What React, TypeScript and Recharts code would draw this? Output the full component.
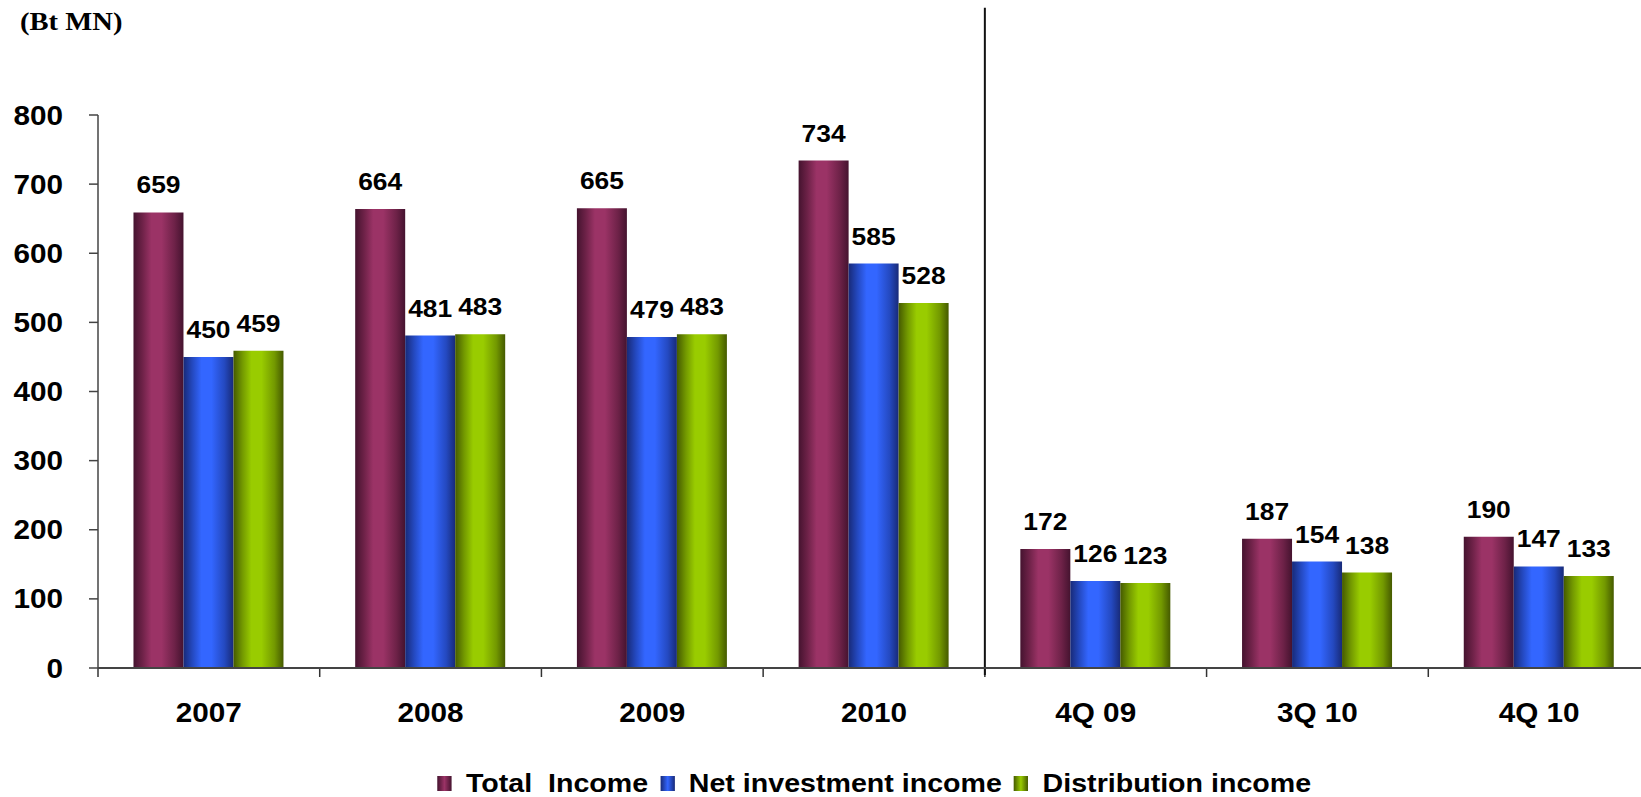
import React from 'react';
import { BarChart, Bar, XAxis, YAxis, ReferenceLine, LabelList } from 'recharts';

const categories = ['2007', '2008', '2009', '2010', '4Q 09', '3Q 10', '4Q 10'];
const totalIncome = [659, 664, 665, 734, 172, 187, 190];
const netInvestmentIncome = [450, 481, 479, 585, 126, 154, 147];
const distributionIncome = [459, 483, 483, 528, 123, 138, 133];
const yTicks = [0, 100, 200, 300, 400, 500, 600, 700, 800];
const dividerCategory = '4Q 09';
const unitLabel = '(Bt MN)';
const seriesNames = ['Total  Income', 'Net investment income', 'Distribution income'];

const data = categories.map((c, i) => ({
  name: c,
  total: totalIncome[i],
  net: netInvestmentIncome[i],
  dist: distributionIncome[i],
}));

// category boundary tick marks: start of every category, plus end of the last one
const boundaries = [
  ...categories.map((c) => ({ cat: c, pos: 'start' as const })),
  { cat: categories[categories.length - 1], pos: 'end' as const },
];

const FONT = '"Liberation Sans", Arial, sans-serif';
const STRETCH = 1.1;

const seriesStyle = [
  { key: 'total', grad: 'gTotal', dark: '#45132f', mid: '#6e2248', bright: '#9b3366' },
  { key: 'net', grad: 'gNet', dark: '#182a78', mid: '#2449c0', bright: '#3366ff' },
  { key: 'dist', grad: 'gDist', dark: '#455a00', mid: '#739900', bright: '#99cc00' },
];

const YTick = (props: any) => {
  const { x, y, payload } = props;
  return (
    <text
      transform={`translate(${x},${y}) scale(${STRETCH},1)`}
      textAnchor="end"
      dominantBaseline="central"
      fontFamily={FONT}
      fontWeight="bold"
      fontSize={27}
      fill="#000"
    >
      {payload.value}
    </text>
  );
};

const XTick = (props: any) => {
  const { x, y, payload } = props;
  return (
    <text
      transform={`translate(${x},${y + 54}) scale(${STRETCH},1)`}
      textAnchor="middle"
      fontFamily={FONT}
      fontWeight="bold"
      fontSize={27}
      fill="#000"
    >
      {payload.value}
    </text>
  );
};

const ValueLabel = (props: any) => {
  const vb = props.viewBox || props;
  const x = vb.x ?? props.x;
  const y = vb.y ?? props.y;
  const w = vb.width ?? props.width;
  return (
    <text
      transform={`translate(${x + w / 2},${y - 19}) scale(${STRETCH},1)`}
      textAnchor="middle"
      fontFamily={FONT}
      fontWeight="bold"
      fontSize={24}
      fill="#000"
    >
      {props.value}
    </text>
  );
};

export default function App() {
  return (
    <div
      style={{
        position: 'absolute',
        left: 0,
        top: 0,
        width: 1641,
        height: 797,
        overflow: 'hidden',
        background: '#fff',
      }}
    >
      <div
        style={{
          position: 'absolute',
          left: 20,
          top: 9,
          fontFamily: '"Liberation Serif", "Times New Roman", serif',
          fontWeight: 'bold',
          fontSize: 26,
          lineHeight: '26px',
          transform: `scaleX(${STRETCH})`,
          transformOrigin: 'left top',
          whiteSpace: 'pre',
        }}
      >
        {unitLabel}
      </div>
      <div style={{ position: 'absolute', left: 0, top: 0 }}>
        <BarChart
          width={1650}
          height={738}
          data={data}
          margin={{ top: 115, right: 0, bottom: 0, left: 0 }}
          barCategoryGap="16%"
          barGap={0}
        >
          <defs>
            {seriesStyle.map((s) => (
              <linearGradient key={s.grad} id={s.grad} x1="0" y1="0" x2="1" y2="0">
                <stop offset="0%" stopColor={s.dark} />
                <stop offset="18%" stopColor={s.mid} />
                <stop offset="36%" stopColor={s.bright} />
                <stop offset="56%" stopColor={s.bright} />
                <stop offset="82%" stopColor={s.mid} />
                <stop offset="100%" stopColor={s.dark} />
              </linearGradient>
            ))}
          </defs>
          <XAxis
            dataKey="name"
            type="category"
            height={70}
            tickLine={false}
            tickSize={0}
            tickMargin={0}
            axisLine={{ stroke: '#444', strokeWidth: 2 }}
            tick={<XTick />}
            interval={0}
          />
          <YAxis
            width={98}
            domain={[0, 800]}
            ticks={yTicks}
            interval={0}
            allowDataOverflow
            tickSize={9}
            tickMargin={26}
            axisLine={{ stroke: '#444', strokeWidth: 1.5 }}
            tickLine={{ stroke: '#444', strokeWidth: 1.5 }}
            tick={<YTick />}
          />
          {boundaries.map((b, i) => (
            <ReferenceLine
              key={'b' + i}
              position={b.pos}
              segment={[
                { x: b.cat, y: 0 },
                { x: b.cat, y: -13 },
              ]}
              ifOverflow="visible"
              stroke="#333"
              strokeWidth={1.5}
            />
          ))}
          <ReferenceLine
            position="start"
            segment={[
              { x: dividerCategory, y: -10 },
              { x: dividerCategory, y: 955 },
            ]}
            ifOverflow="visible"
            stroke="#111"
            strokeWidth={2}
          />
          {seriesStyle.map((s) => (
            <Bar key={s.key} dataKey={s.key} fill={`url(#${s.grad})`} isAnimationActive={false}>
              <LabelList dataKey={s.key} content={<ValueLabel />} />
            </Bar>
          ))}
        </BarChart>
      </div>
      <div
        style={{
          position: 'absolute',
          left: 98,
          width: 1552,
          top: 769,
          height: 28,
          display: 'flex',
          justifyContent: 'center',
          alignItems: 'center',
        }}
      >
        <div
          style={{
            display: 'flex',
            alignItems: 'center',
            transform: `scaleX(${STRETCH})`,
            fontFamily: FONT,
            fontWeight: 'bold',
            fontSize: 26,
            lineHeight: '28px',
            whiteSpace: 'pre',
          }}
        >
          {seriesStyle.map((s, i) => (
            <div key={s.key} style={{ display: 'flex', alignItems: 'center', marginLeft: i === 0 ? 0 : 11 }}>
              <div
                style={{
                  width: 13,
                  height: 15,
                  marginRight: 13,
                  background: `linear-gradient(to right, ${s.dark}, ${s.bright} 50%, ${s.dark})`,
                }}
              />
              <span>{seriesNames[i]}</span>
            </div>
          ))}
        </div>
      </div>
    </div>
  );
}
